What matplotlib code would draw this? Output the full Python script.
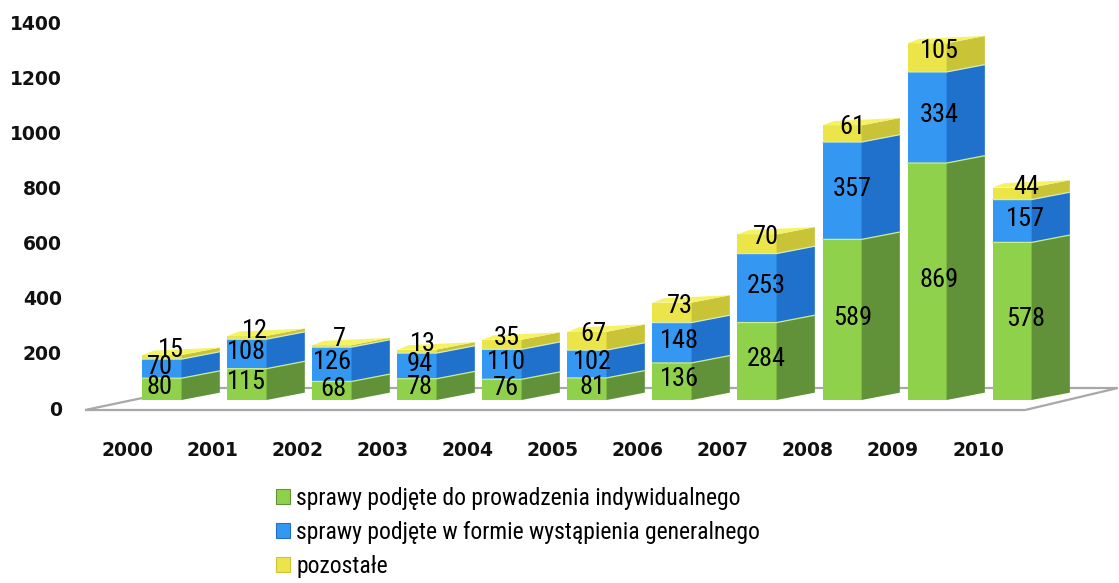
import matplotlib
matplotlib.use("Agg")
import matplotlib.pyplot as plt
from matplotlib.patches import Polygon, Patch
import numpy as np

years = ["2000", "2001", "2002", "2003", "2004", "2005", "2006", "2007", "2008", "2009", "2010"]
individual = [80, 115, 68, 78, 76, 81, 136, 284, 589, 869, 578]
general = [70, 108, 126, 94, 110, 102, 148, 253, 357, 334, 157]
other = [15, 12, 7, 13, 35, 67, 73, 70, 61, 105, 44]
y_ticks = [0, 200, 400, 600, 800, 1000, 1200, 1400]
series_names = ["sprawy podjęte do prowadzenia indywidualnego",
                "sprawy podjęte w formie wystąpienia generalnego",
                "pozostałe"]

front_cols = ["#8fd14b", "#3497f2", "#ebe54a"]
side_cols = ["#61923a", "#2071cc", "#c9c338"]
top_col = "#f5f263"

narrow = ["Roboto Condensed", "Carlito", "Liberation Sans Narrow", "DejaVu Sans"]

fig = plt.figure(figsize=(11.19, 5.83), dpi=100)
ax = fig.add_axes([85 / 1119, (583 - 420) / 583, (1119 - 85) / 1119, (420 - 15) / 583])
ax.set_xlim(-1.129, 11.035)
ax.set_ylim(-73.3, 1411.8)
for s in ax.spines.values():
    s.set_visible(False)

# floor
floor = Polygon([(-1.129, -36.7), (9.93, -36.7), (11.02, 44), (0.106, 44)],
                closed=True, facecolor="white", edgecolor="#a8a8a8", lw=1.6, zorder=1)
ax.add_patch(floor)

x = np.arange(len(years))
W = 0.46   # front width
D = 0.45   # side depth (x)
DY = 27    # side rise (y units)
left = x - 0.453

series = [np.array(individual), np.array(general), np.array(other)]
label_lift = [2, 2, 7]
bottom = np.zeros(len(years))
for k, vals in enumerate(series):
    ax.bar(left, vals, width=W, bottom=bottom, align="edge", color=front_cols[k],
           edgecolor="none", zorder=3)
    for i in range(len(years)):
        L = left[i]
        M = L + W
        R = M + D
        b = bottom[i]
        t = b + vals[i]
        side = Polygon([(M, b), (R, b + DY), (R, t + DY), (M, t)], closed=True,
                       facecolor=side_cols[k], edgecolor="none", zorder=3)
        ax.add_patch(side)
        if k > 0:
            ax.plot([L, M, R], [b, b, b + DY], color="#c8ec90" if k == 1 else "#d0ecc0",
                    lw=0.9, zorder=4)
        if k == len(series) - 1:
            top = Polygon([(L, t), (M, t), (R, t + DY), (L + 0.3 * D, t + 0.6 * DY)],
                          closed=True, facecolor=top_col, edgecolor="none", zorder=3)
            ax.add_patch(top)
        # data label
        dx = -0.25 + 0.019 * i
        if k == len(series) - 1:
            dx += max(0.0, 0.13 - 0.03 * i)
        ax.annotate(str(vals[i]), (x[i] + dx, b + vals[i] / 2),
                    xytext=(0, label_lift[k] * 0.72),
                    textcoords="offset points", ha="center", va="center",
                    fontsize=19, family=narrow, color="black", zorder=6)
    bottom = bottom + vals

# y ticks (offset due to 3D floor)
ax.set_yticks([-29.3 + 1.011 * t for t in y_ticks])
ax.set_yticklabels([str(t) for t in y_ticks])
ax.set_xticks(x - 0.624)
ax.set_xticklabels(years)
ax.tick_params(axis="y", length=0, pad=16.6, labelsize=13.5)
ax.tick_params(axis="x", length=0, pad=15, labelsize=13.5)
for lab in ax.get_yticklabels() + ax.get_xticklabels():
    lab.set_fontweight("bold")
    lab.set_color("#111111")

handles = [Patch(facecolor=front_cols[k], edgecolor=side_cols[k], lw=0.8) for k in range(3)]
fig.legend(handles, series_names, loc="upper left",
           bbox_to_anchor=(276 / 1119, 1 - 487 / 583), frameon=False,
           prop={"family": narrow, "size": 17}, handlelength=0.6, handleheight=0.6,
           handletextpad=0.25, labelspacing=0.47, borderaxespad=0, borderpad=0)

fig.savefig("out.png", dpi=100)
